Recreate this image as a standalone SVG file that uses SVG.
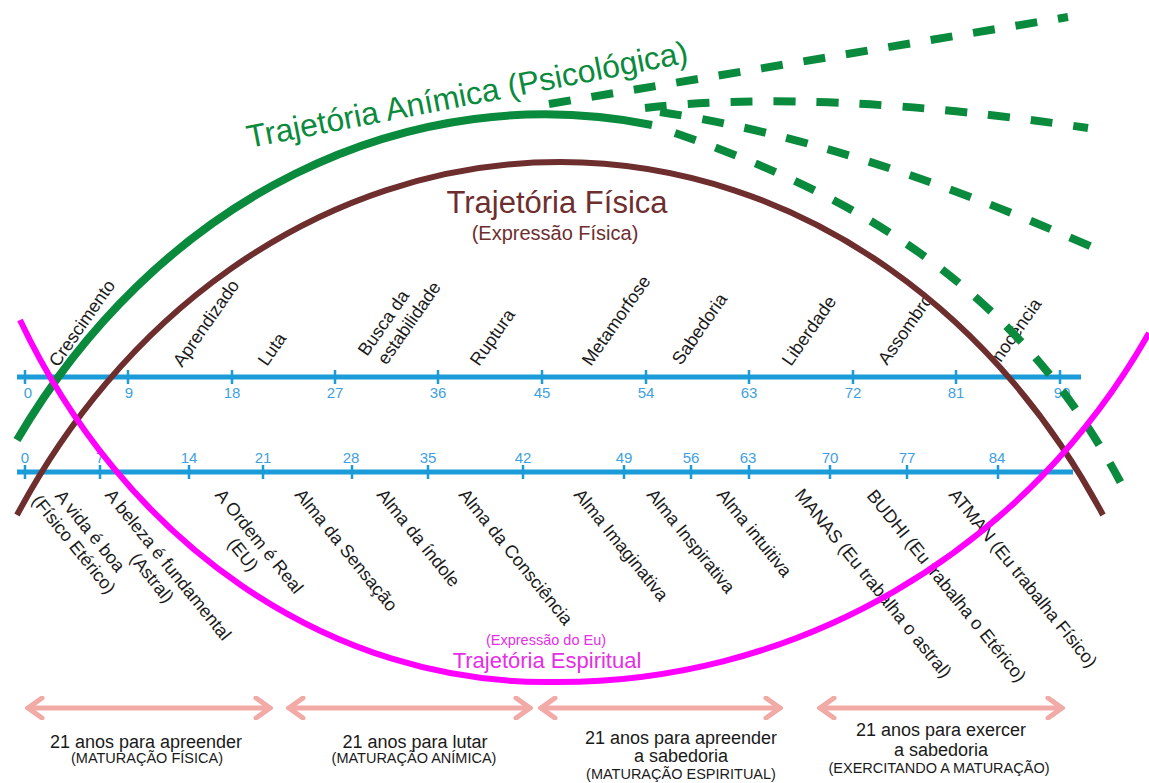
<svg xmlns="http://www.w3.org/2000/svg" width="1149" height="783" viewBox="0 0 1149 783">
<defs>
<style>
text{font-family:"Liberation Sans",Arial,sans-serif;}
.axis{stroke:#1b9bd8;stroke-width:5;fill:none;}
.tick{stroke:#1b9bd8;stroke-width:2.5;}
.num{fill:#3f9fe0;font-size:15px;text-anchor:middle;}
.lbl{fill:#1a1a1a;font-size:18px;}
.brown{stroke:#6e2e2e;stroke-width:6;fill:none;}
.green{stroke:#0a8a3c;stroke-width:8;fill:none;}
.gdash{stroke:#0a8a3c;stroke-width:8;fill:none;stroke-dasharray:22 21;}
.mag{stroke:#ff00ff;stroke-width:6;fill:none;}
.arrow{stroke:#f2aaa6;stroke-width:5;fill:none;}
.cap{fill:#1a1a1a;font-size:18px;text-anchor:middle;}
.sub{fill:#1a1a1a;font-size:14.5px;text-anchor:middle;}
</style>
<marker id="head" viewBox="0 0 20 24" refX="17" refY="12" markerWidth="20" markerHeight="24" markerUnits="userSpaceOnUse" orient="auto-start-reverse">
<path d="M3,2 L17,12 L3,22" stroke="#f2aaa6" stroke-width="5" fill="none" stroke-linecap="round"/>
</marker>
</defs>
<rect width="1149" height="783" fill="#ffffff"/>

<g id="axis-top">
<line class="axis" x1="17" y1="377" x2="1081" y2="377"/>
<path class="tick" d="M25,370V384M128,370V384M232,370V384M335,370V384M438,370V384M542,370V384M646,370V384M749,370V384M853,370V384M956,370V384M1060,370V384"/>
<text class="num" x="28" y="398">0</text>
<text class="num" x="129" y="398">9</text>
<text class="num" x="232" y="398">18</text>
<text class="num" x="335" y="398">27</text>
<text class="num" x="438" y="398">36</text>
<text class="num" x="542" y="398">45</text>
<text class="num" x="646" y="398">54</text>
<text class="num" x="749" y="398">63</text>
<text class="num" x="853" y="398">72</text>
<text class="num" x="956" y="398">81</text>
<text class="num" x="1062" y="398">90</text>
</g>

<g id="axis-bottom">
<line class="axis" x1="17" y1="472" x2="1073" y2="472"/>
<path class="tick" d="M25,465V479M100,465V479M189,465V479M263,465V479M352,465V479M428,465V479M523,465V479M624,465V479M691,465V479M749,465V479M830,465V479M907,465V479M998,465V479"/>
<text class="num" x="25" y="463">0</text>
<text class="num" x="100" y="463">7</text>
<text class="num" x="189" y="463">14</text>
<text class="num" x="263" y="463">21</text>
<text class="num" x="351" y="463">28</text>
<text class="num" x="428" y="463">35</text>
<text class="num" x="523" y="463">42</text>
<text class="num" x="624" y="463">49</text>
<text class="num" x="691" y="463">56</text>
<text class="num" x="748" y="463">63</text>
<text class="num" x="830" y="463">70</text>
<text class="num" x="907" y="463">77</text>
<text class="num" x="997" y="463">84</text>
</g>

<g id="phases-top">
<text class="lbl" transform="translate(58,368) rotate(-55)">Crescimento</text>
<text class="lbl" transform="translate(182,368) rotate(-55)">Aprendizado</text>
<text class="lbl" transform="translate(267,367) rotate(-55)">Luta</text>
<text class="lbl" transform="translate(367,357) rotate(-55)"><tspan x="0" y="0">Busca da</tspan><tspan x="4" y="21">estabilidade</tspan></text>
<text class="lbl" transform="translate(479,367) rotate(-55)">Ruptura</text>
<text class="lbl" transform="translate(591,367) rotate(-55)">Metamorfose</text>
<text class="lbl" transform="translate(681,366) rotate(-55)">Sabedoria</text>
<text class="lbl" transform="translate(791,367) rotate(-55)">Liberdade</text>
<text class="lbl" transform="translate(887,366) rotate(-55)">Assombro</text>
<text class="lbl" transform="translate(998,367) rotate(-55)">Inocência</text>
</g>

<g id="phases-bottom">
<text class="lbl" text-anchor="middle" transform="translate(54,496) rotate(51)"><tspan x="50" y="0">A vida é boa</tspan><tspan x="50" y="21">(Físico Etérico)</tspan></text>
<text class="lbl" text-anchor="middle" transform="translate(104,495) rotate(51)"><tspan x="94.5" y="0">A beleza é fundamental</tspan><tspan x="94.5" y="21">(Astral)</tspan></text>
<text class="lbl" text-anchor="middle" transform="translate(214,495) rotate(51)"><tspan x="64.5" y="0">A Ordem é Real</tspan><tspan x="64.5" y="21">(EU)</tspan></text>
<text class="lbl" transform="translate(294,495) rotate(51)">Alma da Sensação</text>
<text class="lbl" transform="translate(376,495) rotate(51)">Alma da índole</text>
<text class="lbl" transform="translate(458,495) rotate(51)">Alma da Consciência</text>
<text class="lbl" transform="translate(573,495) rotate(51)">Alma Imaginativa</text>
<text class="lbl" transform="translate(646,495) rotate(51)">Alma Inspirativa</text>
<text class="lbl" transform="translate(716,495) rotate(51)">Alma intuitiva</text>
<text class="lbl" transform="translate(794,495) rotate(51)">MANAS (Eu trabalha o astral)</text>
<text class="lbl" transform="translate(866,496) rotate(51)">BUDHI (Eu trabalha o Etérico)</text>
<text class="lbl" transform="translate(948,495) rotate(51)">ATMAN (Eu trabalha Físico)</text>
</g>

<g id="titles">
<text transform="translate(249,148) rotate(-11)" font-size="32" fill="#0a8a3c">Trajetória Anímica (Psicológica)</text>
<text x="557" y="213" font-size="31" fill="#6e2e2e" text-anchor="middle">Trajetória Física</text>
<text x="555" y="240" font-size="20" fill="#6e2e2e" text-anchor="middle">(Expressão Física)</text>
<text x="546" y="645" font-size="14.5" fill="#e62ee6" text-anchor="middle">(Expressão do Eu)</text>
<text x="547" y="668" font-size="22" fill="#e62ee6" text-anchor="middle">Trajetória Espiritual</text>
</g>

<g id="connectors">
<path id="trajetoria-fisica" class="brown" d="M17,515 A640,750 0 0 1 1103,515"/>
<path id="trajetoria-animica" class="green" d="M17,440 A640,750 0 0 1 652,125"/>
<path class="gdash" d="M549,104 L1068,17"/>
<path class="gdash" d="M645,108 Q820,88 1088,128"/>
<path class="gdash" d="M660,112 Q850,140 1092,247"/>
<path class="gdash" d="M675,133 C825,185 1010,270 1123,487"/>
<path id="trajetoria-espiritual" class="mag" d="M20,320 A600,700 0 0 0 548,682 A683,700 0 0 0 1149,333"/>
</g>

<g id="periods">
<line class="arrow" x1="28" y1="708" x2="270" y2="708" marker-start="url(#head)" marker-end="url(#head)"/>
<line class="arrow" x1="289" y1="708" x2="530" y2="708" marker-start="url(#head)" marker-end="url(#head)"/>
<line class="arrow" x1="541" y1="708" x2="780" y2="708" marker-start="url(#head)" marker-end="url(#head)"/>
<line class="arrow" x1="820" y1="708" x2="1062" y2="708" marker-start="url(#head)" marker-end="url(#head)"/>
<text class="cap" x="146" y="748">21 anos para apreender</text>
<text class="sub" x="147" y="763">(MATURAÇÃO FÍSICA)</text>
<text class="cap" x="415" y="748">21 anos para lutar</text>
<text class="sub" x="414" y="763">(MATURAÇÃO ANÍMICA)</text>
<text class="cap" x="681" y="744">21 anos para apreender</text>
<text class="cap" x="681" y="762">a sabedoria</text>
<text class="sub" x="681" y="779">(MATURAÇÃO ESPIRITUAL)</text>
<text class="cap" x="941" y="736">21 anos para exercer</text>
<text class="cap" x="941" y="756">a sabedoria</text>
<text class="sub" x="939" y="773">(EXERCITANDO A MATURAÇÃO)</text>
</g>
</svg>
